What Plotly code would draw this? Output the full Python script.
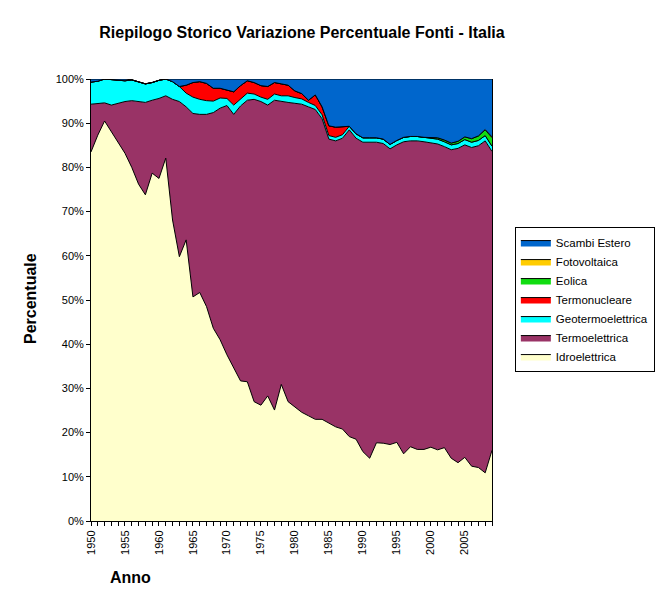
import plotly.graph_objects as go

years = list(range(1950, 2010))

idroelettrica = [83.5, 87.3, 90.5, 88.1, 85.8, 83.2, 80.0, 76.2, 73.8, 78.7,
                 77.5, 82.1, 68.1, 59.8, 63.6, 50.7, 51.7, 48.5, 43.6, 41.0,
                 37.6, 34.5, 31.7, 31.5, 27.0, 26.2, 28.3, 25.1, 30.9, 27.0,
                 25.7, 24.6, 23.8, 23.0, 23.0, 22.1, 21.3, 20.8, 19.1, 18.5,
                 15.7, 14.2, 17.7, 17.6, 17.3, 17.8, 15.2, 16.8, 16.2, 16.2,
                 16.7, 16.1, 16.6, 14.2, 13.2, 14.4, 12.4, 12.1, 10.9, 16.0]

termoelettrica = [10.8, 7.2, 4.1, 6.0, 8.7, 11.7, 15.1, 18.7, 20.9, 16.5,
                  18.1, 14.1, 27.3, 35.1, 30.1, 41.5, 40.3, 43.5, 48.8, 52.4,
                  56.4, 57.5, 62.2, 63.7, 68.4, 68.7, 65.8, 70.1, 64.0, 67.7,
                  68.8, 69.7, 69.9, 70.1, 68.0, 64.3, 64.7, 65.8, 69.4, 68.1,
                  70.0, 71.5, 68.0, 67.8, 66.9, 67.3, 70.6, 69.2, 69.8, 69.6,
                  68.9, 69.2, 68.1, 69.8, 71.1, 70.7, 72.1, 72.8, 75.1, 67.6]

geotermoelettrica = [5.0, 5.0, 5.4, 5.8, 5.3, 4.7, 4.7, 4.5, 4.2, 4.0,
                     4.1, 3.8, 4.0, 3.4, 3.1, 3.7, 3.4, 3.1, 2.6, 2.3,
                     1.6, 2.1, 1.6, 1.6, 1.2, 1.0, 1.3, 1.4, 1.3, 1.5,
                     1.3, 1.2, 1.0, 0.9, 0.9, 0.8, 0.8, 0.8, 0.8, 1.0,
                     1.0, 1.0, 1.0, 1.0, 1.0, 1.0, 1.0, 1.0, 1.0, 1.0,
                     1.0, 1.1, 1.1, 1.1, 1.1, 1.2, 1.2, 1.2, 1.2, 1.2]

termonucleare = [0, 0, 0, 0, 0, 0, 0, 0, 0, 0,
                 0, 0, 0, 0, 1.8, 3.3, 4.0, 3.9, 2.9, 2.2,
                 1.9, 3.0, 3.0, 2.8, 2.6, 2.6, 2.9, 2.6, 2.7, 2.4,
                 1.5, 1.2, 0.5, 2.4, 1.8, 2.2, 2.3, 1.8, 0, 0,
                 0, 0, 0, 0, 0, 0, 0, 0, 0, 0,
                 0, 0, 0, 0, 0, 0, 0, 0, 0, 0]

eolica = [0] * 50 + [0.2, 0.3, 0.4, 0.4, 0.5, 0.6, 0.8, 1.0, 1.3, 1.9]

fotovoltaica = [0] * 57 + [0.02, 0.06, 0.2]

scambi_estero = [0.7, 0.5, 0.0, 0.1, 0.2, 0.4, 0.0, 0.0, 0.0, 0.0,
                 0.0, 0.0, 0.6, 1.7, 1.4, 0.8, 0.6, 1.0, 2.1, 2.1,
                 2.5, 2.9, 1.5, 0.4, 0.8, 1.5, 1.7, 0.8, 1.1, 1.4,
                 2.7, 3.3, 4.8, 3.6, 6.3, 10.6, 10.9, 10.8, 10.7, 12.4,
                 13.3, 13.3, 13.3, 13.6, 14.8, 13.9, 13.2, 13.0, 13.0, 13.2,
                 13.2, 13.3, 13.8, 14.5, 14.1, 13.1, 13.5, 12.9, 11.4, 13.1]

series = [
    ("Idroelettrica", idroelettrica, "#FFFFCC"),
    ("Termoelettrica", termoelettrica, "#993366"),
    ("Geotermoelettrica", geotermoelettrica, "#00FFFF"),
    ("Termonucleare", termonucleare, "#FF0000"),
    ("Eolica", eolica, "#11DD11"),
    ("Fotovoltaica", fotovoltaica, "#FFCC00"),
    ("Scambi Estero", scambi_estero, "#0066CC"),
]

FONT = "Arial, Liberation Sans, sans-serif"

fig = go.Figure()
for name, vals, col in series:
    fig.add_trace(go.Scatter(
        x=years, y=vals, name=name, mode="lines",
        stackgroup="one", fillcolor=col,
        line=dict(color="black", width=1),
        hoverinfo="skip",
    ))

fig.update_layout(
    width=672, height=605,
    margin=dict(l=91, r=180, t=79, b=84),
    paper_bgcolor="white", plot_bgcolor="white",
    font=dict(family=FONT, color="black"),
    title=dict(text="<b>Riepilogo Storico Variazione Percentuale Fonti - Italia</b>",
               x=302 / 672, xanchor="center", y=1 - 32 / 605, yanchor="middle",
               font=dict(size=16, family=FONT, color="black")),
    showlegend=True,
    legend=dict(traceorder="reversed", x=1.057, y=0.665, xanchor="left", yanchor="top",
                bordercolor="black", borderwidth=1, bgcolor="white",
                font=dict(size=11.5, family=FONT, color="black")),
    hovermode=False,
)

fig.update_xaxes(
    range=[1950, 2009], tickmode="linear", tick0=1950, dtick=5,
    tickangle=-90, ticks="outside", ticklen=4, tickcolor="black",
    showline=True, linecolor="black", linewidth=1,
    showgrid=False, zeroline=False,
    tickfont=dict(size=11, family=FONT, color="black"),
    minor=dict(ticks="outside", dtick=1, ticklen=4, tickcolor="black", showgrid=False),
)
fig.update_yaxes(
    range=[0, 100], tickmode="linear", tick0=0, dtick=10, ticksuffix="%",
    ticks="outside", ticklen=4, tickcolor="black",
    showline=True, linecolor="black", linewidth=1, mirror=True,
    showgrid=False, zeroline=False,
    tickfont=dict(size=11, family=FONT, color="black"),
)

fig.add_annotation(text="<b>Anno</b>", xref="paper", yref="paper",
                   x=(130 - 91) / 401, y=(521 - 577) / 442,
                   showarrow=False, xanchor="center", yanchor="middle",
                   font=dict(size=16, family=FONT, color="black"))
fig.add_annotation(text="<b>Percentuale</b>", xref="paper", yref="paper",
                   x=(30 - 91) / 401, y=(521 - 299) / 442, textangle=-90,
                   showarrow=False, xanchor="center", yanchor="middle",
                   font=dict(size=16, family=FONT, color="black"))

fig.write_html("out.html")
